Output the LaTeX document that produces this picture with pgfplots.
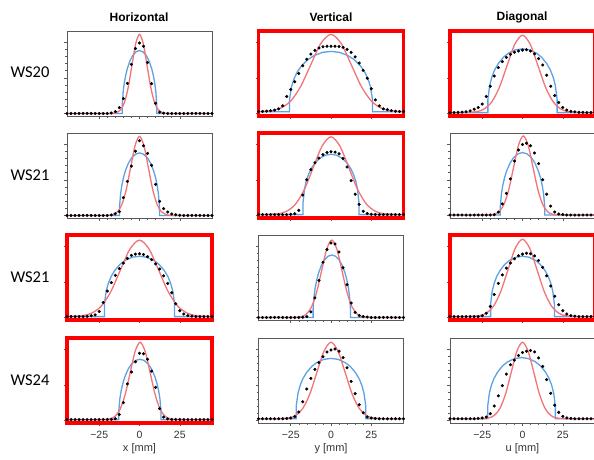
\documentclass[border=0pt]{standalone}
\usepackage{pgfplots}
\usepackage{pgfplotstable}
\pgfplotsset{compat=1.18}
\usepackage{fontspec}
\setmainfont{Liberation Sans}
\newfontfamily\carlito{Carlito}
\definecolor{redc}{RGB}{242,115,120}
\definecolor{bluec}{RGB}{92,162,228}
\pgfplotstableread{
x d11 d12 d13 d21 d22 d23 d31 d32 d33 d41 d42 d43
-45 3 5.2 4 3 4 3.5 4 3 4 4 5 5
-42.5 3 5.4 4 3 4 3.5 4 3 4 4 5 5
-40 3 5.7 4.2 3 4 3.5 4 3 4 4 5 5
-37.5 3 6.2 4.5 3 4 3.5 4 3 4 4 5 5
-35 3 7 5 3 4 3.5 4 3 4 4 5 5
-32.5 3 8.5 6 3 4 3.5 4.4 3 4 4 5 5
-30 3 12 8 3 4 3.5 5 3 4 4 5 5
-27.5 3 22.9 10 3 4 3.5 6 3 4 4 5.3 5.4
-25 3 31.2 14 3 4.3 3.5 10 3 5 4 5.8 6
-22.5 3 40.4 23 3 5 3.5 20.5 3 8 4 7.5 7
-20 3 50 35 3 9 3.5 34 3 16 4 13 11
-17.5 3.5 59.1 47 3.6 27 3.8 44 3.3 30 4.3 25 20
-15 5.2 66.8 57 5 45 7 52.5 4 43 5 40 32
-12.5 9.9 72.9 64 7.5 57 16.5 60.5 9.5 53 10 52.5 44
-10 20.5 77.3 69 24 65 29 67 26 61 24 63 57.5
-7.5 38.4 80 72.5 43 70.5 46 72.5 46.5 67 46 71 68.5
-5 60.7 81.4 75 61 74.5 67 76 68 72 60 78 74
-2.5 79.3 82 76.5 78.6 77 80 77.5 83 75.5 72 83.5 79.5
0 86 82 77.5 91 78 86.5 78 90.5 77.5 82 86 83
2.5 82 82 78 85 77.5 88 77 89.5 78.5 81.5 87 84.5
5 63 81.7 76.5 76 75.5 85 74.5 80 78 75 84.5 85.3
7.5 38 80.7 73 62 70 76.5 71 61.5 75.5 61 77 83.6
10 15 78.5 67.5 39.5 60 64 66 41.5 70 42 65 76.5
12.5 4.5 74.9 60 19.5 44 45 60 20 62 17 49 66.5
15 3.3 69.5 48 11 28 28 52 9 52 7 34.5 51
17.5 3 62.3 35 7 16 14 43 5.3 40 4.8 21.5 35
20 3 53.7 24 4.8 8 7 32 4 28 4.2 12 21
22.5 3 44.3 16 3.8 5.2 4.8 19 3.4 18 4 7.2 12.5
25 3 32 10 3.3 4.5 4 11 3 11 4 5.8 7.8
27.5 3 19 7 3 4.2 3.5 7 3 7 4 5.3 6
30 3 12 5.5 3 4 3.5 5.2 3 5.2 4 5 5.4
32.5 3 8.5 4.8 3 4 3.5 4.5 3 4.5 4 5 5
35 3 7.5 4.4 3 4 3.5 4 3 4 4 5 5
37.5 3 6.3 4.2 3 4 3.5 4 3 4 4 5 5
40 3 5.6 4 3 4 3.5 4 3 4 4 5 5
42.5 3 5.3 4 3 4 3.5 4 3 4 4 5 5
45 3 5.2 4 3 4 3.5 4 3 4 4 5 5
}\dotstab
\pgfplotsset{
 panel/.style={scale only axis, width=145pt, height=85pt, anchor=north west,
  xmin=-45, xmax=45, ymin=0, ymax=100, axis on top,
  xtick={-25,0,25}, minor x tick num=4, xticklabels={},
  ytick={3,45,87}, minor y tick num=4, yticklabels={},
  tick align=outside, tick pos=left, major tick length=3pt, minor tick length=1.8pt,
  axis line style={draw=black!65, line width=0.7pt},
  tick style={black!65, line width=0.5pt}},
 hl/.style={axis line style={draw=red, line width=3.8pt}},
 bottom/.style={xticklabels={−25,0,25},
  xticklabel style={font=\fontsize{10.5}{12}\selectfont, text=black!80, yshift=-2pt},
  xlabel style={font=\fontsize{11}{13}\selectfont, text=black!80, yshift=2pt}},
 rc/.style={smooth, no marks, color=redc, line width=1.3pt},
 bc/.style={sharp plot, no marks, color=bluec, line width=1.3pt},
 dt/.style={only marks, mark=*, mark size=1.35pt, black},
}
\begin{document}
\begin{tikzpicture}
\path[use as bounding box] (0pt,0pt) rectangle (594pt,-460pt);
% titles
\node[font=\bfseries\fontsize{12}{14}\selectfont] at (139pt,-17pt) {Horizontal};
\node[font=\bfseries\fontsize{12}{14}\selectfont] at (331pt,-17pt) {Vertical};
\node[font=\bfseries\fontsize{12}{14}\selectfont] at (522pt,-17pt) {Diagonal};
% row labels
\node[font=\carlito\fontsize{16.5}{18}\selectfont] at (30pt,-72pt) {WS20};
\node[font=\carlito\fontsize{16.5}{18}\selectfont] at (30pt,-175pt) {WS21};
\node[font=\carlito\fontsize{16.5}{18}\selectfont] at (30pt,-277pt) {WS21};
\node[font=\carlito\fontsize{16.5}{18}\selectfont] at (30pt,-380pt) {WS24};

% ---------- Row 1 ----------
\begin{axis}[panel, at={(67pt,-31pt)}]
\addplot[bc] coordinates {(-45,3) (-10.69,3) (-10.69,13.4) (-10.15,28.2) (-9.5,38.2) (-8.64,47.4) (-7.56,55.8) (-5.94,64.8) (-4.32,70.9) (-2.16,75.5) (0,77) (2.16,75.5) (4.32,70.9) (5.94,64.8) (7.56,55.8) (8.64,47.4) (9.5,38.2) (10.15,28.2) (10.69,13.4) (10.69,3) (45,3)};
\addplot[rc] coordinates {(-45,3) (-18.8,3) (-14.1,4) (-11.75,7.1) (-9.4,15.6) (-7.05,33.2) (-4.7,59.4) (-2.35,85.1) (0,96) (2.35,85.1) (4.7,59.4) (7.05,33.2) (9.4,15.6) (11.75,7.1) (14.1,4) (18.8,3) (45,3)};
\addplot[dt] table[x=x, y=d11] {\dotstab};
\end{axis}

\begin{axis}[panel, hl, at={(258.5pt,-31pt)}]
\addplot[bc] coordinates {(-45,5) (-25.74,5) (-25.74,19.8) (-24.44,35) (-22.88,44.1) (-20.8,52.2) (-18.2,59.2) (-14.3,66.5) (-10.4,71.2) (-5.2,74.9) (0,76) (5.2,74.9) (10.4,71.2) (14.3,66.5) (18.2,59.2) (20.8,52.2) (22.88,44.1) (24.44,35) (25.74,19.8) (25.74,5) (45,5)};
\addplot[rc] coordinates {(-45,5.2) (-37.8,6) (-31.5,9) (-25.2,17.3) (-18.9,34.5) (-12.6,60.2) (-6.3,85.3) (0,96) (6.3,85.3) (12.6,60.2) (18.9,34.5) (25.2,17.3) (31.5,9) (37.8,6) (45,5.2)};
\addplot[dt] table[x=x, y=d12] {\dotstab};
\end{axis}

\begin{axis}[panel, hl, at={(450pt,-31pt)}]
\addplot[bc] coordinates {(-45,4) (-21.48,4) (-21.48,19.7) (-20.4,35.7) (-19.1,45.3) (-17.36,53.9) (-15.19,61.3) (-11.94,69) (-8.68,74) (-4.34,77.8) (0,79) (4.34,77.8) (8.68,74) (11.94,69) (15.19,61.3) (17.36,53.9) (19.1,45.3) (20.4,35.7) (21.48,19.7) (21.48,4) (45,4)};
\addplot[rc] coordinates {(-45,4) (-38.4,4) (-28.8,5) (-24,8) (-19.2,16.3) (-14.4,33.5) (-9.6,59.2) (-4.8,84.3) (0,95) (4.8,84.3) (9.6,59.2) (14.4,33.5) (19.2,16.3) (24,8) (28.8,5) (38.4,4) (45,4)};
\addplot[dt] table[x=x, y=d13] {\dotstab};
\end{axis}

% ---------- Row 2 ----------
\begin{axis}[panel, at={(67pt,-133pt)}]
\addplot[bc] coordinates {(-45,3) (-12.375,3) (-12.375,13.4) (-11.75,28.1) (-11,38) (-10,47.2) (-8.75,55.6) (-6.875,64.5) (-5,70.5) (-2.5,75.1) (0,76.6) (2.5,75.1) (5,70.5) (6.875,64.5) (8.75,55.6) (10,47.2) (11,38) (11.75,28.1) (12.375,13.4) (12.375,3) (45,3)};
\addplot[rc] coordinates {(-45,3) (-22,3) (-16.5,4) (-13.75,7.1) (-11,15.6) (-8.25,33.2) (-5.5,59.4) (-2.75,85.1) (0,96) (2.75,85.1) (5.5,59.4) (8.25,33.2) (11,15.6) (13.75,7.1) (16.5,4) (22,3) (45,3)};
\addplot[dt] table[x=x, y=d21] {\dotstab};
\end{axis}

\begin{axis}[panel, hl, at={(258.5pt,-133pt)}]
\addplot[bc] coordinates {(-45,4) (-17.325,4) (-17.325,18.8) (-16.45,34) (-15.4,43.1) (-14,51.2) (-12.25,58.2) (-9.625,65.5) (-7,70.2) (-3.5,73.9) (0,75) (3.5,73.9) (7,70.2) (9.625,65.5) (12.25,58.2) (14,51.2) (15.4,43.1) (16.45,34) (17.325,18.8) (17.325,4) (45,4)};
\addplot[rc] coordinates {(-45,4) (-33,5) (-27.5,8) (-22,16.4) (-16.5,33.7) (-11,59.5) (-5.5,84.7) (0,95.5) (5.5,84.7) (11,59.5) (16.5,33.7) (22,16.4) (27.5,8) (33,5) (45,4)};
\addplot[dt] table[x=x, y=d22] {\dotstab};
\end{axis}

\begin{axis}[panel, at={(450pt,-133pt)}]
\addplot[bc] coordinates {(-45,3.5) (-13.76,3.5) (-13.76,13.9) (-13.07,28.6) (-12.23,38.4) (-11.12,47.6) (-9.73,56) (-7.645,64.9) (-5.56,70.9) (-2.78,75.5) (0,77) (2.78,75.5) (5.56,70.9) (7.645,64.9) (9.73,56) (11.12,47.6) (12.23,38.4) (13.07,28.6) (13.76,13.9) (13.76,3.5) (45,3.5)};
\addplot[rc] coordinates {(-45,3.5) (-23.5,3.5) (-17.5,4.5) (-14.5,7.6) (-11.5,16.1) (-8.5,33.7) (-5.5,59.9) (-2.5,85.6) (0.5,96.5) (3.5,85.6) (6.5,59.9) (9.5,33.7) (12.5,16.1) (15.5,7.6) (18.5,4.5) (24.5,3.5) (45,3.5)};
\addplot[dt] table[x=x, y=d23] {\dotstab};
\end{axis}

% ---------- Row 3 ----------
\begin{axis}[panel, hl, at={(67pt,-235pt)}]
\addplot[bc] coordinates {(-45,4) (-21.78,4) (-21.78,18.8) (-20.68,34) (-19.36,43.1) (-17.6,51.2) (-15.4,58.2) (-12.1,65.5) (-8.8,70.2) (-4.4,73.9) (0,75) (4.4,73.9) (8.8,70.2) (12.1,65.5) (15.4,58.2) (17.6,51.2) (19.36,43.1) (20.68,34) (21.78,18.8) (21.78,4) (45,4)};
\addplot[rc] coordinates {(-45,4.1) (-35.7,5) (-29.75,8) (-23.8,16.2) (-17.85,33.2) (-11.9,58.6) (-5.95,83.4) (0,94) (5.95,83.4) (11.9,58.6) (17.85,33.2) (23.8,16.2) (29.75,8) (35.7,5) (45,4.1)};
\addplot[dt] table[x=x, y=d31] {\dotstab};
\end{axis}

\begin{axis}[panel, at={(258.5pt,-235pt)}]
\addplot[bc] coordinates {(-45,3) (-11.08,3) (-11.08,13.4) (-10.5,28.1) (-9.8,37.9) (-8.86,47.1) (-7.69,55.5) (-5.935,64.4) (-4.18,70.4) (-1.84,75) (0.5,76.5) (2.84,75) (5.18,70.4) (6.935,64.4) (8.69,55.5) (9.86,47.1) (10.8,37.9) (11.5,28.1) (12.08,13.4) (12.08,3) (45,3)};
\addplot[rc] coordinates {(-45,3) (-24.7,3) (-18.4,4) (-15.25,7) (-12.1,15.3) (-8.95,32.5) (-5.8,58.2) (-2.65,83.3) (0.5,94) (3.65,83.3) (6.8,58.2) (9.95,32.5) (13.1,15.3) (16.25,7) (19.4,4) (25.7,3) (45,3)};
\addplot[dt] table[x=x, y=d32] {\dotstab};
\end{axis}

\begin{axis}[panel, hl, at={(450pt,-235pt)}]
\addplot[bc] coordinates {(-45,4) (-19.8,4) (-19.8,18.8) (-18.8,34) (-17.6,43.1) (-16,51.2) (-14,58.2) (-11,65.5) (-8,70.2) (-4,73.9) (0,75) (4,73.9) (8,70.2) (11,65.5) (14,58.2) (16,51.2) (17.6,43.1) (18.8,34) (19.8,18.8) (19.8,4) (45,4)};
\addplot[rc] coordinates {(-45,4) (-36,4) (-27,5) (-22.5,8) (-18,16.3) (-13.5,33.5) (-9,59.2) (-4.5,84.3) (0,95) (4.5,84.3) (9,59.2) (13.5,33.5) (18,16.3) (22.5,8) (27,5) (36,4) (45,4)};
\addplot[dt] table[x=x, y=d33] {\dotstab};
\end{axis}

% ---------- Row 4 ----------
\begin{axis}[panel, hl, bottom, at={(67pt,-338pt)}, xlabel={x [mm]}]
\addplot[bc] coordinates {(-45,4) (-12.87,4) (-12.87,14) (-12.21,28.2) (-11.41,37.7) (-10.35,46.6) (-9.03,54.7) (-7.04,63.3) (-5.05,69.1) (-2.4,73.6) (0.25,75) (2.9,73.6) (5.55,69.1) (7.54,63.3) (9.53,54.7) (10.85,46.6) (11.91,37.7) (12.71,28.2) (13.37,14) (13.37,4) (45,4)};
\addplot[rc] coordinates {(-45,4) (-24.4,4) (-18.2,5) (-15.1,8) (-12,16.3) (-8.9,33.5) (-5.8,59.2) (-2.7,84.3) (0.4,95) (3.5,84.3) (6.6,59.2) (9.7,33.5) (12.8,16.3) (15.9,8) (19,5) (25.2,4) (45,4)};
\addplot[dt] table[x=x, y=d41] {\dotstab};
\end{axis}

\begin{axis}[panel, bottom, at={(258.5pt,-338pt)}, xlabel={y [mm]}]
\addplot[bc] coordinates {(-45,5) (-21.58,5) (-21.58,19.8) (-20.49,35) (-19.18,44.1) (-17.44,52.2) (-15.26,59.2) (-11.99,66.5) (-8.72,71.2) (-4.36,74.9) (0,76) (4.36,74.9) (8.72,71.2) (11.99,66.5) (15.26,59.2) (17.44,52.2) (19.18,44.1) (20.49,35) (21.58,19.8) (21.58,5) (45,5)};
\addplot[rc] coordinates {(-45,5) (-35,5) (-26.25,6) (-21.875,9) (-17.5,17.2) (-13.125,34.2) (-8.75,59.6) (-4.375,84.4) (0,95) (4.375,84.4) (8.75,59.6) (13.125,34.2) (17.5,17.2) (21.875,9) (26.25,6) (35,5) (45,5)};
\addplot[dt] table[x=x, y=d42] {\dotstab};
\end{axis}

\begin{axis}[panel, bottom, at={(450pt,-338pt)}, xlabel={u [mm]}]
\addplot[bc] coordinates {(-45,5) (-21.59,5) (-21.59,20) (-20.53,35.5) (-19.26,44.7) (-17.56,52.9) (-15.44,60) (-12.26,67.4) (-9.08,72.2) (-4.84,75.8) (-0.6,77) (3.64,75.8) (7.88,72.2) (11.06,67.4) (14.24,60) (16.36,52.9) (18.06,44.7) (19.33,35.5) (20.39,20) (20.39,5) (45,5)};
\addplot[rc] coordinates {(-45,5) (-28,5) (-21,6) (-17.5,9) (-14,17.2) (-10.5,34.2) (-7,59.6) (-3.5,84.4) (0,95) (3.5,84.4) (7,59.6) (10.5,34.2) (14,17.2) (17.5,9) (21,6) (28,5) (45,5)};
\addplot[dt] table[x=x, y=d43] {\dotstab};
\end{axis}
\end{tikzpicture}
\end{document}
